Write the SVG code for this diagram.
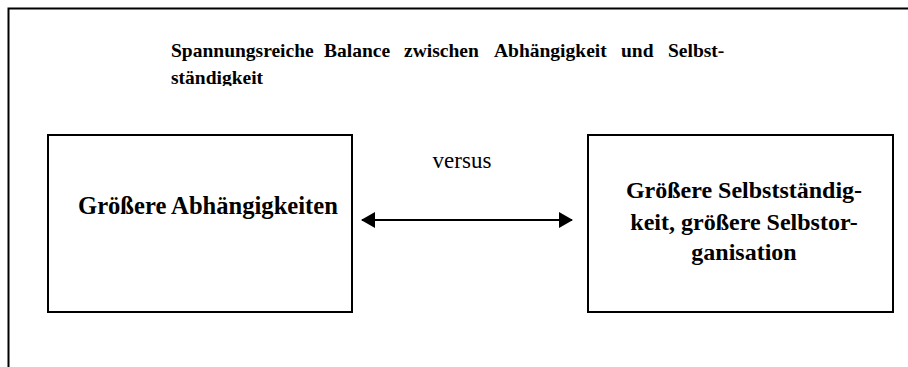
<svg xmlns="http://www.w3.org/2000/svg" width="908" height="367" viewBox="0 0 908 367">
<style>
.frame{fill:none;stroke:#000;stroke-width:2}
.box{fill:#fff;stroke:#000;stroke-width:2}
.t{font-family:"Liberation Serif","Times New Roman",serif;fill:#000}
.b{font-weight:bold}
.conn{stroke:#000;stroke-width:2;fill:none}
</style>
<defs>
<clipPath id="titleclip"><rect x="0" y="0" width="908" height="86"/></clipPath>
<marker id="ah" viewBox="0 0 14 16" refX="13" refY="8" markerWidth="14" markerHeight="16" markerUnits="userSpaceOnUse" orient="auto-start-reverse">
<path d="M0,0 L14,8 L0,16 Z" fill="#000"/>
</marker>
</defs>
<rect width="908" height="367" fill="#fff"/>
<path class="frame" d="M8.5,367 V8.5 H908"/>
<g id="title" clip-path="url(#titleclip)">
<text class="t b" font-size="19.5" y="57"><tspan x="171">Spannungsreiche</tspan><tspan x="324">Balance</tspan><tspan x="404">zwischen</tspan><tspan x="494">Abhängigkeit</tspan><tspan x="621">und</tspan><tspan x="668">Selbst-</tspan></text>
<text class="t b" font-size="19.5" x="171" y="84">ständigkeit</text>
</g>
<g id="node-left">
<rect class="box" x="48" y="135" width="304" height="177"/>
<text class="t b" font-size="24.6" x="78" y="214">Größere Abhängigkeiten</text>
</g>
<g id="node-right">
<rect class="box" x="588" y="135" width="305" height="177"/>
<text class="t b" font-size="24" text-anchor="middle" x="744"><tspan x="744" y="198">Größere Selbstständig-</tspan><tspan x="744" y="230">keit, größere Selbstor-</tspan><tspan x="744" y="260">ganisation</tspan></text>
</g>
<g id="connectors">
<line class="conn" x1="362" y1="220" x2="572" y2="220" marker-start="url(#ah)" marker-end="url(#ah)"/>
<text class="t" font-size="23" text-anchor="middle" x="462" y="168">versus</text>
</g>
</svg>
